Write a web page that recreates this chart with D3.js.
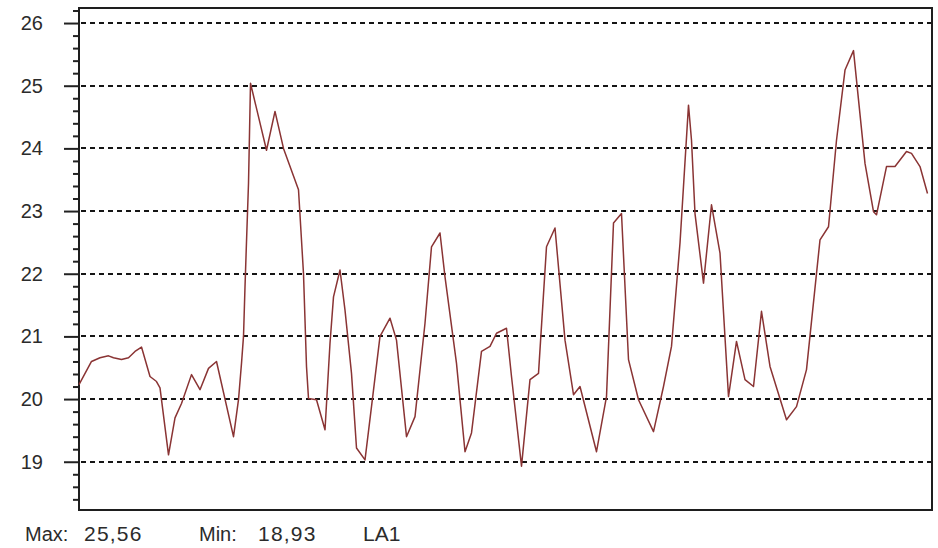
<!DOCTYPE html>
<html>
<head>
<meta charset="utf-8">
<script src="https://cdn.jsdelivr.net/npm/d3@7"></script>
<style>
  html, body { margin: 0; padding: 0; background: #fff; }
  svg { display: block; }
  text { font-family: "Liberation Sans", Arial, sans-serif; fill: #2b2b2b; }
</style>
</head>
<body>
<svg id="chart" width="938" height="548"></svg>
<script>
// Sample positions (recording index) and logged values for channel LA1
const sampleIdx = [
  0, 2.5, 4.2, 5.9, 6.9, 8.5, 9.9, 11.2, 12.5, 14.2,
  15.5, 16.2, 17.9, 19.2, 20.5, 22.5, 24.2, 25.9, 27.5, 30.9,
  31.9, 32.5, 32.9, 33.2, 33.5, 33.9, 34.3, 37.5, 39.2, 40.9,
  43.9, 44.9, 45.5, 45.9, 47.5, 49.2, 50.2, 50.9, 52.2, 53.2,
  54.5, 55.5, 57.2, 58.5, 60.2, 62.2, 63.5, 65.5, 67.2, 69.2,
  70.5, 72.2, 73.2, 75.5, 77.2, 78.5, 80.5, 82.2, 83.5, 85.5,
  86.5, 88.5, 90.2, 91.9, 93.5, 95.2, 97.2, 98.9, 100.2, 103.5,
  105.5, 106.9, 108.5, 109.9, 111.9, 114.9, 116.9, 118.5, 120.2, 121.9,
  122.5, 123.2, 124.9, 126.5, 128.2, 129.9, 131.5, 133.2, 134.9, 136.5,
  138.2, 141.5, 143.5, 145.5, 148.2, 149.9, 151.5, 153.2, 154.9, 155.5,
  157.2, 158.9, 159.5, 161.5, 163.2, 165.5, 166.5, 168.2, 169.7
];
const values = [
  20.23, 20.60, 20.66, 20.69, 20.66, 20.63, 20.66, 20.76, 20.83, 20.36,
  20.28, 20.18, 19.11, 19.70, 19.93, 20.39, 20.15, 20.49, 20.60, 19.40,
  19.99, 20.57, 21.00, 21.79, 22.51, 23.44, 25.04, 23.97, 24.59, 24.00,
  23.34, 22.00, 20.52, 20.01, 19.99, 19.51, 20.89, 21.63, 22.06, 21.42,
  20.41, 19.22, 19.03, 19.88, 21.00, 21.29, 20.94, 19.40, 19.72, 21.21,
  22.43, 22.65, 21.95, 20.57, 19.16, 19.46, 20.76, 20.84, 21.05, 21.13,
  20.36, 18.93, 20.31, 20.41, 22.43, 22.73, 20.94, 20.07, 20.20, 19.16,
  20.04, 22.81, 22.96, 20.63, 19.99, 19.48, 20.20, 20.84, 22.49, 24.69,
  24.13, 22.96, 21.85, 23.10, 22.33, 20.04, 20.92, 20.31, 20.20, 21.40,
  20.52, 19.67, 19.88, 20.47, 22.54, 22.75, 24.13, 25.25, 25.56, 25.09,
  23.76, 22.99, 22.94, 23.71, 23.71, 23.95, 23.92, 23.71, 23.28
];
const yMajorTicks = [19, 20, 21, 22, 23, 24, 25, 26];
const yMinorTicks = [18.4, 18.6, 18.8, 19.2, 19.4, 19.6, 19.8, 20.2, 20.4, 20.6, 20.8,
  21.2, 21.4, 21.6, 21.8, 22.2, 22.4, 22.6, 22.8, 23.2, 23.4, 23.6, 23.8,
  24.2, 24.4, 24.6, 24.8, 25.2, 25.4, 25.6, 25.8, 26.2];
const maxLabel = "25,56";
const minLabel = "18,93";
const channelName = "LA1";

const svg = d3.select("#chart");
const plot = { left: 79, right: 932, top: 8, bottom: 510 };

const x = d3.scaleLinear().domain([0, 170]).range([plot.left, 929]);
const y = d3.scaleLinear().domain([18.23, 26.24]).range([plot.bottom, plot.top]);

// Horizontal dashed grid at each whole degree
svg.append("g")
  .selectAll("line")
  .data(yMajorTicks)
  .join("line")
  .attr("x1", plot.left + 2)
  .attr("x2", plot.right)
  .attr("y1", d => Math.round(y(d)))
  .attr("y2", d => Math.round(y(d)))
  .attr("stroke", "#151515")
  .attr("stroke-width", 2)
  .attr("stroke-dasharray", "5,4");

// Minor ticks on the left axis
const minorAxis = d3.axisLeft(y).tickValues(yMinorTicks).tickSize(5).tickFormat("");
svg.append("g")
  .attr("transform", `translate(${plot.left - 1},0)`)
  .call(minorAxis)
  .call(g => g.select(".domain").remove())
  .call(g => g.selectAll(".tick line").attr("stroke", "#222").attr("stroke-width", 2));

// Major ticks with labels
const majorAxis = d3.axisLeft(y).tickValues(yMajorTicks).tickSize(15).tickPadding(21)
  .tickFormat(d3.format("d"));
svg.append("g")
  .attr("transform", `translate(${plot.left},0)`)
  .call(majorAxis)
  .call(g => g.select(".domain").remove())
  .call(g => g.selectAll(".tick line").attr("stroke", "#222").attr("stroke-width", 2))
  .call(g => g.selectAll(".tick text")
    .attr("font-size", 20)
    .attr("fill", "#2b2b2b")
    .style("font-family", "'Liberation Sans', Arial, sans-serif"));

// Plot frame
svg.append("rect")
  .attr("x", plot.left)
  .attr("y", plot.top)
  .attr("width", plot.right - plot.left)
  .attr("height", plot.bottom - plot.top)
  .attr("fill", "none")
  .attr("stroke", "#1e1e1e")
  .attr("stroke-width", 2);

// Data trace
const line = d3.line()
  .x((d, i) => x(sampleIdx[i]))
  .y(d => y(d));
svg.append("path")
  .datum(values)
  .attr("d", line)
  .attr("fill", "none")
  .attr("stroke", "#8a3434")
  .attr("stroke-width", 1.5)
  .attr("stroke-linejoin", "round");

// Footer with extremes and channel name
const footer = svg.append("g").attr("font-size", 20);
footer.append("text").attr("x", 25).attr("y", 541).text("Max:");
footer.append("text").attr("x", 84).attr("y", 541).attr("font-size", 21)
  .attr("letter-spacing", 1.2).text(maxLabel);
footer.append("text").attr("x", 199).attr("y", 541).text("Min:");
footer.append("text").attr("x", 258).attr("y", 541).attr("font-size", 21)
  .attr("letter-spacing", 1.2).text(minLabel);
footer.append("text").attr("x", 363).attr("y", 541).attr("font-size", 21).text(channelName);
</script>
</body>
</html>
